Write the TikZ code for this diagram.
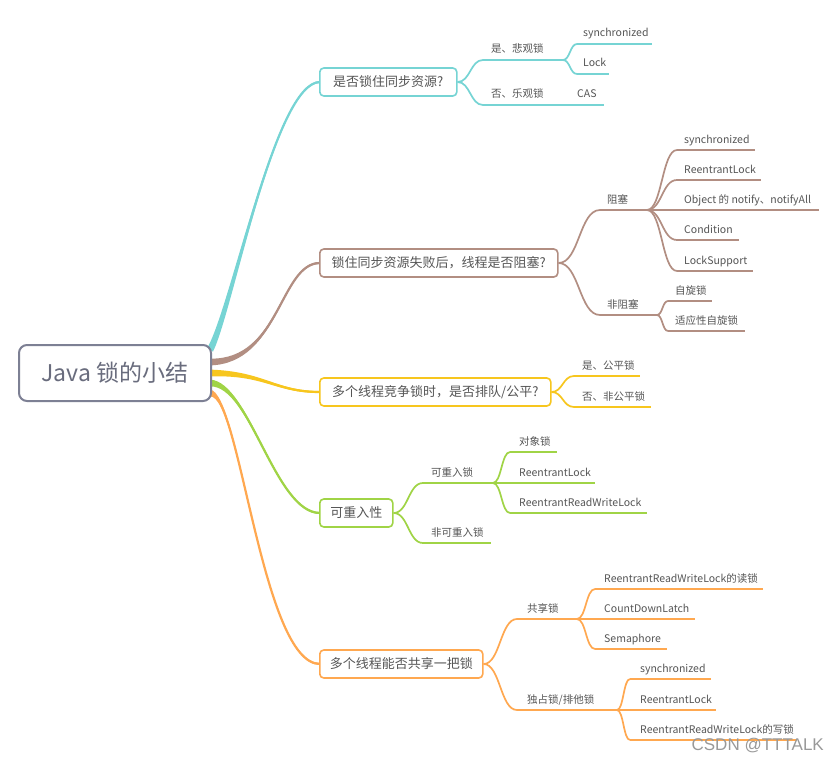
\documentclass[tikz,border=0pt]{standalone}
\usepackage{fontspec}
\setmainfont{Noto Sans CJK SC}
\newfontfamily\wmfont{Liberation Sans}
\usetikzlibrary{calc,backgrounds}
\definecolor{cA}{RGB}{118,212,212}
\definecolor{cB}{RGB}{178,142,130}
\definecolor{cC}{RGB}{247,198,30}
\definecolor{cD}{RGB}{160,212,70}
\definecolor{cE}{RGB}{255,168,80}
\definecolor{rootc}{RGB}{125,128,148}
\definecolor{roott}{RGB}{105,108,125}
\definecolor{txt}{RGB}{85,85,85}
\tikzset{
  ln/.style={line width=1.7pt},
  lt/.style={inner sep=0pt, text=txt, font=\fontsize{10.5}{12}\selectfont},
  rootbox/.style={draw=rootc, line width=2pt, rounded corners=8pt, fill=white,
    minimum width=192pt, minimum height=56pt, text=roott, font=\fontsize{23}{24}\selectfont},
  brbox/.style={draw=#1, line width=1.6pt, rounded corners=4pt, fill=white,
    minimum height=28pt, anchor=west, inner xsep=0pt, text=txt, font=\fontsize{13}{14}\selectfont}
}
% leaf: name, x1, x2, y, text, colour, text offset
\newcommand\lf[7]{%
  \coordinate (#1-s) at (#2,#4);
  \coordinate (#1-e) at (#3,#4);
  \draw[ln,#6] (#1-s) -- (#1-e);
  \node[lt,anchor=base west] (#1) at ($(#1-s)+(#7,-7)$) {#5};}
% curve between two named points
\newcommand\cv[3]{%
  \path ($(#2)!0.5!(#3)$) coordinate (cvm);
  \draw[ln,#1] (#2) .. controls (#2 -| cvm) and (#3 -| cvm) .. (#3);}
% tapered root connector: colour, P0, P1, P2, P3
\newcommand\taper[5]{%
  \draw[#1, line width=2.2pt] (#2) .. controls (#3) and (#4) .. (#5);
  \fill[#1] ($(#2)!3.4pt!90:(#3)$) .. controls ($(#3)!1.6pt!-90:(#2)$) and ($(#4)!1pt!90:(#5)$) .. ($(#5)!1pt!-90:(#4)$)
    -- ($(#5)!1pt!90:(#4)$) .. controls ($(#4)!1pt!-90:(#5)$) and ($(#3)!1.6pt!90:(#2)$) .. ($(#2)!3.4pt!-90:(#3)$) -- cycle;}
\begin{document}
\begin{tikzpicture}[x=1pt,y=-1pt]
\useasboundingbox (0,0) rectangle (839,760);
% root and main boxes
\node[rootbox] (root) at (115,373) {Java 锁的小结};
\node[brbox=cA, minimum width=137pt] (b1) at (319,82) {是否锁住同步资源?};
\node[brbox=cB, minimum width=238pt] (b2) at (319,263) {锁住同步资源失败后，线程是否阻塞?};
\node[brbox=cC, minimum width=231pt] (b3) at (319,392) {多个线程竞争锁时，是否排队/公平?};
\node[brbox=cD, minimum width=73pt] (b4) at (319,513) {可重入性};
\node[brbox=cE, minimum width=163pt] (b5) at (319,664) {多个线程能否共享一把锁};

\begin{scope}[on background layer]
  \fill[white] (0,0) rectangle (839,760);
  \coordinate (rA0) at ($(root.east)+(-2,-23)$);
  \coordinate (rA1) at (232,310);
  \coordinate (rA2) at ($(b1.west)+(-44,0)$);
  \coordinate (rA3) at ($(b1.west)+(1,0)$);
  \coordinate (rB0) at ($(root.east)+(-2,-11)$);
  \coordinate (rB1) at (280,362);
  \coordinate (rB2) at ($(b2.west)+(-39,0)$);
  \coordinate (rB3) at ($(b2.west)+(1,0)$);
  \coordinate (rC0) at ($(root.east)+(-2,0)$);
  \coordinate (rC1) at (265,373);
  \coordinate (rC2) at ($(b3.west)+(-44,0)$);
  \coordinate (rC3) at ($(b3.west)+(1,0)$);
  \coordinate (rD0) at ($(root.east)+(-2,10)$);
  \coordinate (rD1) at (250,383);
  \coordinate (rD2) at ($(b4.west)+(-44,0)$);
  \coordinate (rD3) at ($(b4.west)+(1,0)$);
  \coordinate (rE0) at ($(root.east)+(-2,20)$);
  \coordinate (rE1) at (240,393);
  \coordinate (rE2) at ($(b5.west)+(-57,0)$);
  \coordinate (rE3) at ($(b5.west)+(1,0)$);
  \taper{cA}{rA0}{rA1}{rA2}{rA3}
  \taper{cB}{rB0}{rB1}{rB2}{rB3}
  \taper{cC}{rC0}{rC1}{rC2}{rC3}
  \taper{cD}{rD0}{rD1}{rD2}{rD3}
  \taper{cE}{rE0}{rE1}{rE2}{rE3}
\end{scope}

% branch 1
\lf{a1}{483}{563}{60}{是、悲观锁}{cA}{8}
\lf{a2}{483}{563}{105}{否、乐观锁}{cA}{8}
\lf{a11}{577}{652}{44}{synchronized}{cA}{6}
\lf{a12}{577}{609}{74}{Lock}{cA}{6}
\lf{a21}{563}{604}{105}{CAS}{cA}{14}
\cv{cA}{b1.east}{a1-s}
\cv{cA}{b1.east}{a2-s}
\cv{cA}{a1-e}{a11-s}
\cv{cA}{a1-e}{a12-s}

% branch 2
\lf{b21}{600}{647}{210}{阻塞}{cB}{7}
\lf{b22}{600}{657}{315}{非阻塞}{cB}{7}
\lf{b211}{677}{755}{150}{synchronized}{cB}{7}
\lf{b212}{677}{761}{180}{ReentrantLock}{cB}{7}
\lf{b213}{647}{819}{210}{Object 的 notify、notifyAll}{cB}{37}
\lf{b214}{677}{739}{240}{Condition}{cB}{7}
\lf{b215}{677}{753}{271}{LockSupport}{cB}{7}
\lf{b221}{668}{712}{301}{自旋锁}{cB}{7}
\lf{b222}{668}{745}{331}{适应性自旋锁}{cB}{7}
\cv{cB}{b2.east}{b21-s}
\cv{cB}{b2.east}{b22-s}
\cv{cB}{b21-e}{b211-s}
\cv{cB}{b21-e}{b212-s}
\cv{cB}{b21-e}{b214-s}
\cv{cB}{b21-e}{b215-s}
\cv{cB}{b22-e}{b221-s}
\cv{cB}{b22-e}{b222-s}

% branch 3
\lf{c1}{574}{640}{376}{是、公平锁}{cC}{8}
\lf{c2}{574}{651}{407}{否、非公平锁}{cC}{8}
\cv{cC}{b3.east}{c1-s}
\cv{cC}{b3.east}{c2-s}

% branch 4
\lf{d1}{423}{493}{483}{可重入锁}{cD}{8}
\lf{d2}{423}{491}{543}{非可重入锁}{cD}{8}
\lf{d11}{510}{557}{452}{对象锁}{cD}{9}
\lf{d12}{510}{595}{483}{ReentrantLock}{cD}{9}
\lf{d13}{510}{647}{513}{ReentrantReadWriteLock}{cD}{9}
\cv{cD}{b4.east}{d1-s}
\cv{cD}{b4.east}{d2-s}
\cv{cD}{d1-e}{d11-s}
\cv{cD}{d1-e}{d12-s}
\cv{cD}{d1-e}{d13-s}

% branch 5
\lf{e1}{517}{577}{619}{共享锁}{cE}{10}
\lf{e2}{517}{617}{710}{独占锁/排他锁}{cE}{10}
\lf{e11}{595}{763}{589}{ReentrantReadWriteLock的读锁}{cE}{9}
\lf{e12}{595}{695}{619}{CountDownLatch}{cE}{9}
\lf{e13}{595}{667}{649}{Semaphore}{cE}{9}
\lf{e21}{630}{711}{679}{synchronized}{cE}{10}
\lf{e22}{630}{716}{710}{ReentrantLock}{cE}{10}
\lf{e23}{630}{797}{740}{ReentrantReadWriteLock的写锁}{cE}{10}
\cv{cE}{b5.east}{e1-s}
\cv{cE}{b5.east}{e2-s}
\cv{cE}{e1-e}{e11-s}
\cv{cE}{e1-e}{e12-s}
\cv{cE}{e1-e}{e13-s}
\cv{cE}{e2-e}{e21-s}
\cv{cE}{e2-e}{e22-s}
\cv{cE}{e2-e}{e23-s}

% watermark
\node[anchor=base east, inner sep=0pt, text=gray!80, font=\wmfont\fontsize{17}{17}\selectfont] (wm) at (824,750) {CSDN @TTTALK};
\end{tikzpicture}
\end{document}
